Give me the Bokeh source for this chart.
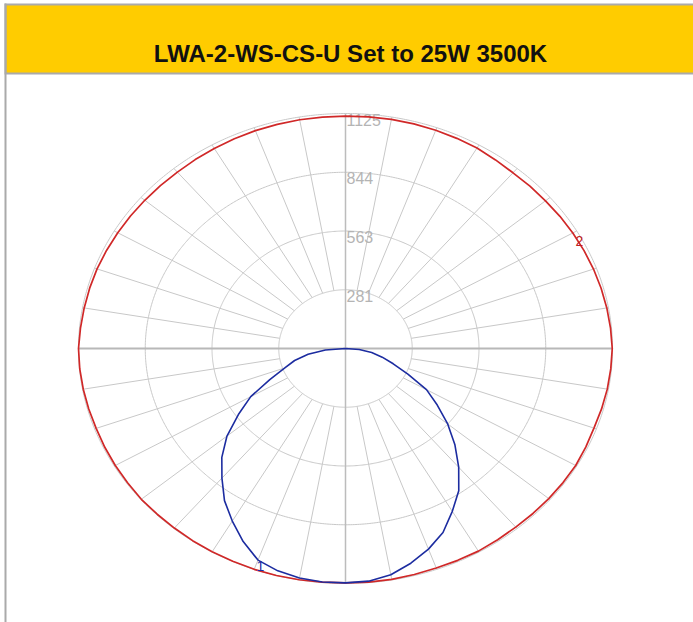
import numpy as np
from bokeh.plotting import figure
from bokeh.models import Range1d
from bokeh.core.properties import value
from bokeh.embed import file_html
from bokeh.resources import INLINE

# ---------------- data ----------------
TITLE = "LWA-2-WS-CS-U Set to 25W 3500K"
RING_VALUES = [281.25, 562.5, 843.75, 1125.0]
RING_LABELS = ["281", "563", "844", "1125"]
R_MAX = 1125.0
SPOKE_STEP = 10  # degrees

# curve 1 (blue) : gamma from nadir, 0..90 step 5, candela
GAMMA_1 = [0, 5, 10, 15, 20, 25, 30, 35, 40, 45, 50, 55, 60, 65, 70, 75, 80, 85, 90]
C1_RIGHT = [1122, 1118, 1100, 1064, 1022, 972, 900, 832, 742, 652, 562, 472, 394, 290, 214, 160, 112, 58, 0]
C1_LEFT = [1122, 1122, 1116, 1102, 1078, 1020, 954, 889, 810, 737, 652, 551, 461, 352, 272, 222, 160, 85, 0]

# curve 2 (red) : gamma 0..180 step 5, candela
GAMMA_2 = [0, 5, 10, 15, 20, 25, 30, 35, 40, 45, 50, 55, 60, 65, 70, 75, 80, 85, 90,
           95, 100, 105, 110, 115, 120, 125, 130, 135, 140, 145, 150, 155, 160, 165, 170, 175, 180]
C2_RIGHT = [1122, 1123, 1122, 1120, 1118, 1119, 1120, 1118, 1116, 1117, 1118, 1119, 1120, 1117, 1114, 1117, 1120, 1122, 1124,
            1121, 1118, 1115, 1112, 1109, 1106, 1103, 1100, 1099, 1098, 1102, 1108, 1110, 1112, 1113, 1114, 1113, 1112]
C2_LEFT = [1122, 1123, 1124, 1125, 1125, 1124, 1124, 1123, 1122, 1122, 1123, 1121, 1120, 1119, 1118, 1120, 1122, 1124, 1125,
           1121, 1118, 1116, 1114, 1111, 1108, 1106, 1104, 1103, 1102, 1104, 1106, 1108, 1110, 1111, 1112, 1112, 1112]

LABEL_1 = ("1", -1, 19.0, 1100.0)   # text, side, gamma, radius
LABEL_2 = ("2", 1, 117.6, 1112.0)

# ---------------- layout (page pixels) ----------------
W, H = 693, 622
PAGE0 = 0
CX, CY = 345.0, 348.0          # polar centre on page
SX = 267.0 / R_MAX             # px per cd horizontally
SY = 235.0 / R_MAX             # px per cd vertically


def px2x(px):
    return (px - CX) / SX


def px2y(py):
    return (CY - py) / SY


p = figure(width=W, height=H, output_backend="svg", toolbar_location=None,
           x_range=Range1d(px2x(PAGE0), px2x(PAGE0 + W)),
           y_range=Range1d(px2y(PAGE0 + H), px2y(PAGE0)),
           x_axis_location=None, y_axis_location=None, min_border=0)
p.grid.grid_line_color = None
p.outline_line_color = None
p.background_fill_color = "white"
p.border_fill_color = "white"

# header
p.quad(left=[px2x(4)], right=[px2x(693)], top=[px2y(3)], bottom=[px2y(74)],
       fill_color="#aaaaaa", line_color=None)
p.quad(left=[px2x(6)], right=[px2x(693)], top=[px2y(5)], bottom=[px2y(72)],
       fill_color="#FFCC00", line_color=None)
p.quad(left=[px2x(4)], right=[px2x(6)], top=[px2y(3)], bottom=[px2y(622)],
       fill_color="#aaaaaa", line_color=None)
p.text(x=[px2x(350)], y=[px2y(53)], text=[TITLE], text_align="center",
       text_baseline="alphabetic", text_font=value("Liberation Sans"),
       text_font_style="bold", text_font_size="24px", text_color="#111111")

# polar grid
t = np.linspace(0, 2 * np.pi, 721)
ring_xs = [list(r * np.sin(t)) for r in RING_VALUES]
ring_ys = [list(r * np.cos(t)) for r in RING_VALUES]
p.multi_line(ring_xs, ring_ys, line_color="#c8c8c8", line_width=1)

sp_xs, sp_ys = [], []
r0, r1 = RING_VALUES[0], RING_VALUES[-1]
for a in range(0, 360, SPOKE_STEP):
    if a % 90 == 0:
        continue
    ar = np.radians(a)
    sp_xs.append([r0 * np.sin(ar), r1 * np.sin(ar)])
    sp_ys.append([r0 * np.cos(ar), r1 * np.cos(ar)])
p.multi_line(sp_xs, sp_ys, line_color="#c8c8c8", line_width=1)

p.line([-R_MAX, R_MAX], [0, 0], line_color="#b8b8b8", line_width=2)
p.line([0, 0], [-R_MAX, R_MAX], line_color="#bcbcbc", line_width=1.5)

p.text(x=[0] * len(RING_VALUES), y=RING_VALUES, text=RING_LABELS,
       text_align="left", text_baseline="top", x_offset=1, y_offset=0,
       text_font=value("Liberation Sans"), text_font_size="16px",
       text_color="#b4b4b4")


def polar(side, gammas, vals):
    g = np.radians(np.asarray(gammas, dtype=float))
    v = np.asarray(vals, dtype=float)
    return side * v * np.sin(g), -v * np.cos(g)


# curve 2 (red) closed loop
xr, yr = polar(1, GAMMA_2, C2_RIGHT)
xl, yl = polar(-1, GAMMA_2, C2_LEFT)
x2 = np.concatenate([xr, xl[::-1]])
y2 = np.concatenate([yr, yl[::-1]])
p.line(x2, y2, line_color="#d02828", line_width=1.7)

# curve 1 (blue)
xr, yr = polar(1, GAMMA_1, C1_RIGHT)
xl, yl = polar(-1, GAMMA_1, C1_LEFT)
x1 = np.concatenate([xl[::-1], xr])
y1 = np.concatenate([yl[::-1], yr])
p.line(x1, y1, line_color="#1c2ca0", line_width=1.6)

for (txt, side, g, r), col in ((LABEL_1, "#1c2ca0"), (LABEL_2, "#c02020")):
    gx, gy = polar(side, [g], [r])
    p.text(x=list(gx), y=list(gy), text=[txt], text_align="center",
           text_baseline="middle", text_font=value("Liberation Sans"),
           text_font_size="14px", text_color=col)

open("out.html", "w").write(file_html(p, INLINE))
